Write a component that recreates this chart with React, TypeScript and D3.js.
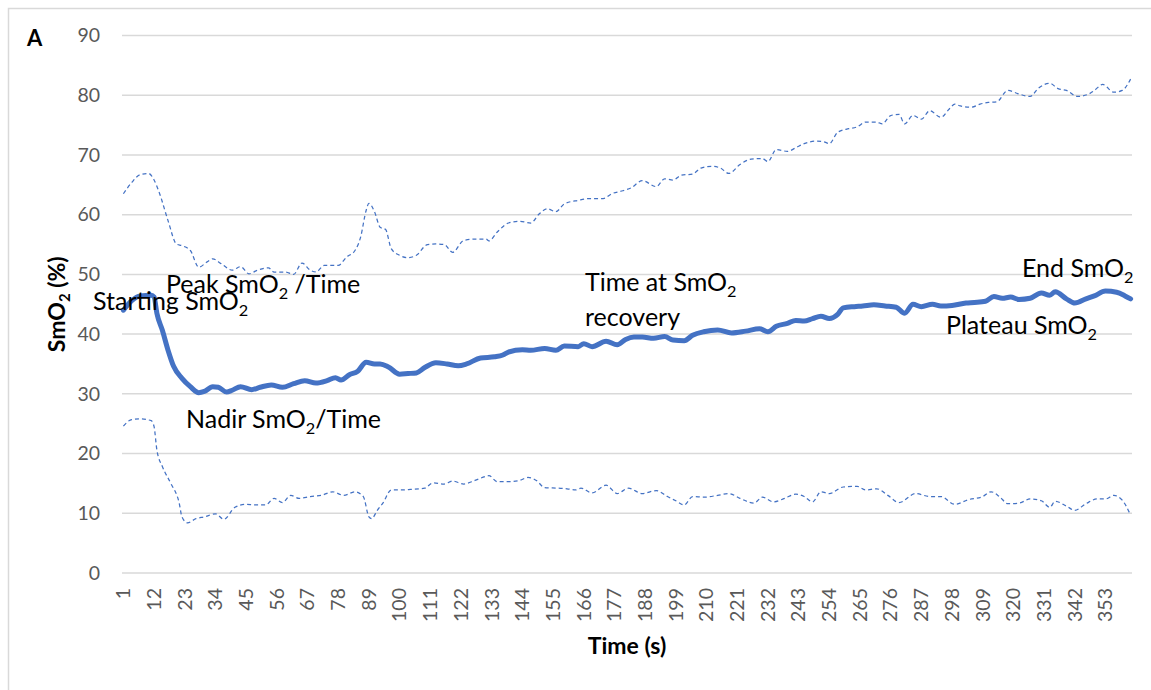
import React, { useEffect, useRef } from 'react';
import * as d3 from 'd3';

// Mean SmO2 (%) — solid line
const meanTime = [1, 4, 7, 11, 12, 13, 15, 17, 19, 22, 25, 28, 30, 33, 35, 38, 40, 43, 47, 50, 54, 58, 62, 66, 70, 74, 77, 79, 82, 85, 88, 91, 93, 96, 100, 103, 106, 109, 113, 117, 121, 124, 129, 134, 137, 139, 144, 147, 152, 156, 159, 164, 166, 169, 174, 178, 181, 184, 187, 191, 195, 198, 202, 205, 209, 214, 219, 224, 229, 232, 235, 239, 242, 245, 248, 251, 254, 257, 259, 263, 266, 270, 274, 278, 281, 284, 287, 291, 294, 298, 303, 306, 310, 313, 316, 319, 322, 326, 330, 333, 335, 339, 342, 346, 349, 353, 357, 360, 362];
const meanValue = [44.0, 45.6, 46.4, 46.5, 46.2, 43.5, 40.6, 37.3, 34.6, 32.6, 31.2, 30.2, 30.4, 31.2, 31.1, 30.3, 30.6, 31.2, 30.7, 31.1, 31.5, 31.1, 31.7, 32.2, 31.8, 32.2, 32.7, 32.3, 33.2, 33.8, 35.3, 35.0, 35.0, 34.5, 33.3, 33.4, 33.5, 34.4, 35.2, 35.0, 34.7, 35.0, 36.0, 36.2, 36.5, 37.0, 37.4, 37.3, 37.6, 37.3, 38.0, 37.9, 38.4, 37.9, 38.8, 38.2, 39.1, 39.5, 39.5, 39.3, 39.6, 39.0, 38.9, 39.8, 40.4, 40.7, 40.2, 40.5, 40.9, 40.4, 41.3, 41.8, 42.3, 42.2, 42.6, 43.0, 42.6, 43.3, 44.4, 44.6, 44.7, 44.9, 44.7, 44.5, 43.5, 45.0, 44.6, 45.0, 44.7, 44.8, 45.2, 45.3, 45.5, 46.3, 46.0, 46.2, 45.8, 46.0, 46.9, 46.5, 47.1, 45.9, 45.2, 45.9, 46.4, 47.2, 47.0, 46.4, 45.9];

// Mean + SD — upper dashed line
const upperTime = [1, 4, 7, 10, 12, 14, 17, 20, 22, 25, 28, 31, 33, 36, 40, 43, 46, 49, 53, 55, 59, 62, 65, 68, 70, 73, 78, 81, 84, 86, 88, 89, 91, 93, 95, 97, 100, 103, 106, 110, 113, 116, 119, 123, 127, 131, 132, 135, 139, 143, 147, 150, 153, 156, 159, 164, 168, 173, 176, 180, 183, 187, 192, 195, 198, 201, 205, 208, 212, 215, 218, 222, 226, 230, 232, 235, 239, 242, 245, 249, 252, 254, 257, 261, 264, 267, 271, 273, 276, 279, 281, 284, 287, 290, 294, 297, 299, 301, 305, 308, 311, 314, 318, 322, 326, 329, 333, 336, 339, 343, 347, 349, 352, 356, 359, 362];
const upperValue = [63.5, 65.4, 66.7, 66.9, 65.8, 63.5, 59.0, 55.1, 54.8, 54.0, 51.2, 52.1, 52.6, 51.8, 50.7, 51.3, 50.1, 50.7, 51.1, 50.4, 50.4, 50.0, 51.9, 50.7, 50.4, 51.5, 51.5, 52.9, 54.0, 56.2, 60.7, 61.9, 60.5, 57.9, 57.5, 54.3, 53.2, 52.8, 53.2, 55.0, 55.1, 55.0, 53.7, 55.7, 55.9, 55.9, 55.6, 57.1, 58.6, 58.9, 58.6, 60.1, 61.0, 60.5, 61.8, 62.4, 62.7, 62.7, 63.5, 64.0, 64.5, 65.7, 64.7, 66.0, 65.8, 66.6, 66.8, 67.8, 68.1, 67.8, 66.9, 68.4, 69.3, 69.4, 68.9, 70.9, 70.6, 71.2, 71.9, 72.3, 72.2, 71.9, 73.8, 74.4, 74.7, 75.5, 75.5, 75.2, 76.6, 76.8, 75.2, 76.6, 76.0, 77.4, 76.3, 77.7, 78.5, 78.2, 78.0, 78.5, 78.8, 78.9, 80.8, 80.2, 79.8, 81.2, 82.0, 81.1, 80.8, 79.8, 80.2, 80.8, 81.8, 80.5, 80.8, 82.7];

// Mean - SD — lower dashed line
const lowerTime = [1, 4, 7, 11, 12, 13, 15, 18, 21, 22, 24, 27, 30, 34, 37, 41, 45, 48, 52, 55, 58, 61, 64, 68, 72, 76, 80, 84, 87, 89, 90, 92, 94, 97, 100, 104, 109, 112, 116, 119, 123, 127, 131, 132, 135, 139, 143, 146, 149, 152, 157, 160, 163, 165, 169, 174, 178, 182, 187, 192, 196, 199, 202, 205, 209, 214, 218, 222, 227, 230, 234, 238, 242, 245, 248, 251, 254, 259, 264, 267, 271, 275, 279, 285, 290, 294, 299, 304, 309, 312, 315, 318, 322, 326, 330, 333, 335, 339, 342, 346, 350, 353, 356, 359, 362];
const lowerValue = [24.6, 25.7, 25.8, 25.5, 24.5, 20.6, 17.8, 15.0, 11.7, 9.4, 8.4, 9.1, 9.4, 9.9, 9.0, 11.0, 11.5, 11.4, 11.4, 12.5, 11.8, 13.0, 12.5, 12.8, 13.0, 13.6, 13.0, 13.6, 12.8, 9.4, 9.1, 10.5, 11.7, 13.9, 13.9, 14.0, 14.2, 15.1, 14.9, 15.4, 14.9, 15.5, 16.2, 16.3, 15.3, 15.3, 15.5, 16.0, 15.5, 14.3, 14.2, 14.1, 13.9, 14.2, 13.4, 14.7, 13.3, 14.2, 13.3, 13.8, 12.8, 12.1, 11.4, 12.8, 12.7, 13.0, 13.3, 12.5, 11.7, 12.7, 11.9, 12.5, 13.2, 12.8, 11.9, 13.6, 13.3, 14.4, 14.5, 13.9, 14.1, 13.0, 11.8, 13.3, 12.8, 12.8, 11.5, 12.3, 12.8, 13.6, 12.8, 11.6, 11.7, 12.4, 12.1, 11.0, 12.0, 11.2, 10.5, 11.6, 12.4, 12.4, 13.0, 12.2, 9.7];

const categoryCount = 362;
const xTickLabels = [1, 12, 23, 34, 45, 56, 67, 78, 89, 100, 111, 122, 133, 144, 155, 166, 177, 188, 199, 210, 221, 232, 243, 254, 265, 276, 287, 298, 309, 320, 331, 342, 353];
const yTickLabels = [0, 10, 20, 30, 40, 50, 60, 70, 80, 90];

type Part = [string, boolean];
const annotations: { x: number; y: number; parts: Part[] }[] = [
  { x: 93, y: 310, parts: [['Starting SmO', false], ['2', true]] },
  { x: 166, y: 293, parts: [['Peak SmO', false], ['2', true], [' /Time', false]] },
  { x: 186, y: 428, parts: [['Nadir SmO', false], ['2', true], ['/Time', false]] },
  { x: 585, y: 291, parts: [['Time at SmO', false], ['2', true]] },
  { x: 585, y: 326, parts: [['recovery', false]] },
  { x: 1022, y: 277, parts: [['End SmO', false], ['2', true]] },
  { x: 946, y: 334, parts: [['Plateau SmO', false], ['2', true]] },
];

const BLUE = '#4472C4';
const GRID = '#d9d9d9';
const FONT = 'Lato, "Open Sans", sans-serif';

function addSubText(
  g: d3.Selection<SVGGElement, unknown, null, undefined>,
  x: number,
  y: number,
  parts: Part[],
  size: number,
  weight: string,
  transform?: string
) {
  const t = g
    .append('text')
    .attr('x', x)
    .attr('y', y)
    .attr('font-family', FONT)
    .attr('font-size', size)
    .attr('font-weight', weight)
    .attr('fill', '#000');
  if (transform) t.attr('transform', transform);
  const shift = size * 0.22;
  let shifted = false;
  parts.forEach(([s, sub]) => {
    const ts = t.append('tspan').text(s);
    if (sub) {
      ts.attr('font-size', size * 0.65).attr('dy', shift);
      shifted = true;
    } else if (shifted) {
      ts.attr('dy', -shift);
      shifted = false;
    }
  });
  return t;
}

export default function App() {
  const ref = useRef<SVGSVGElement>(null);
  useEffect(() => {
    const svg = d3.select(ref.current);
    svg.selectAll('*').remove();

    const left = 122, right = 1132, top = 35.5, bottom = 573;
    const x = d3.scaleLinear().domain([0.5, categoryCount + 0.5]).range([left, right]);
    const y = d3.scaleLinear().domain([0, 90]).range([bottom, top]);

    const g = svg.append('g');

    // chart border
    g.append('rect')
      .attr('x', 8.5).attr('y', 8.5).attr('width', 1180).attr('height', 720)
      .attr('fill', '#fff').attr('stroke', GRID).attr('stroke-width', 1.5);

    // gridlines
    g.selectAll('line.grid')
      .data(yTickLabels)
      .join('line')
      .attr('x1', left).attr('x2', right)
      .attr('y1', (d) => y(d)).attr('y2', (d) => y(d))
      .attr('stroke', GRID).attr('stroke-width', 1.5);

    // y tick labels
    g.selectAll('text.ytick')
      .data(yTickLabels)
      .join('text')
      .attr('x', 100).attr('y', (d) => y(d)).attr('dy', '0.35em')
      .attr('text-anchor', 'end')
      .attr('font-family', FONT).attr('font-size', 19.5).attr('fill', '#595959')
      .text((d) => String(d));

    // x tick labels (rotated)
    g.selectAll('text.xtick')
      .data(xTickLabels)
      .join('text')
      .attr('transform', (d) => `translate(${x(d)},588) rotate(-90)`)
      .attr('dy', '0.35em')
      .attr('text-anchor', 'end')
      .attr('font-family', FONT).attr('font-size', 19.5).attr('fill', '#595959')
      .text((d) => String(d));

    const mk = (ts: number[], vs: number[]) => ts.map((t, i) => [t, vs[i]] as [number, number]);
    const line = d3.line<[number, number]>()
      .x((d) => x(d[0]))
      .y((d) => y(d[1]))
      .curve(d3.curveMonotoneX);

    g.append('path')
      .attr('d', line(mk(upperTime, upperValue)) || '')
      .attr('fill', 'none').attr('stroke', BLUE).attr('stroke-width', 1.25)
      .attr('stroke-dasharray', '4,3');
    g.append('path')
      .attr('d', line(mk(lowerTime, lowerValue)) || '')
      .attr('fill', 'none').attr('stroke', BLUE).attr('stroke-width', 1.25)
      .attr('stroke-dasharray', '4,3');
    g.append('path')
      .attr('d', line(mk(meanTime, meanValue)) || '')
      .attr('fill', 'none').attr('stroke', BLUE).attr('stroke-width', 5)
      .attr('stroke-linejoin', 'round').attr('stroke-linecap', 'round');

    // annotations
    annotations.forEach((a) => addSubText(g, a.x, a.y, a.parts, 25, 'normal'));

    // panel letter
    g.append('text').attr('x', 27).attr('y', 46)
      .attr('font-family', FONT).attr('font-size', 22).attr('font-weight', 'bold')
      .text('A');

    // axis titles
    g.append('text')
      .attr('x', (left + right) / 2).attr('y', 654)
      .attr('text-anchor', 'middle')
      .attr('font-family', FONT).attr('font-size', 23).attr('font-weight', 'bold')
      .text('Time (s)');
    const yt = addSubText(g, 0, 0, [['SmO', false], ['2', true], [' (%)', false]], 23, 'bold',
      `translate(65,${(top + bottom) / 2}) rotate(-90)`);
    yt.attr('text-anchor', 'middle');
  }, []);

  return (
    <svg
      ref={ref}
      width={1151}
      height={690}
      style={{ position: 'absolute', left: 0, top: 0, background: '#fff' }}
    />
  );
}
